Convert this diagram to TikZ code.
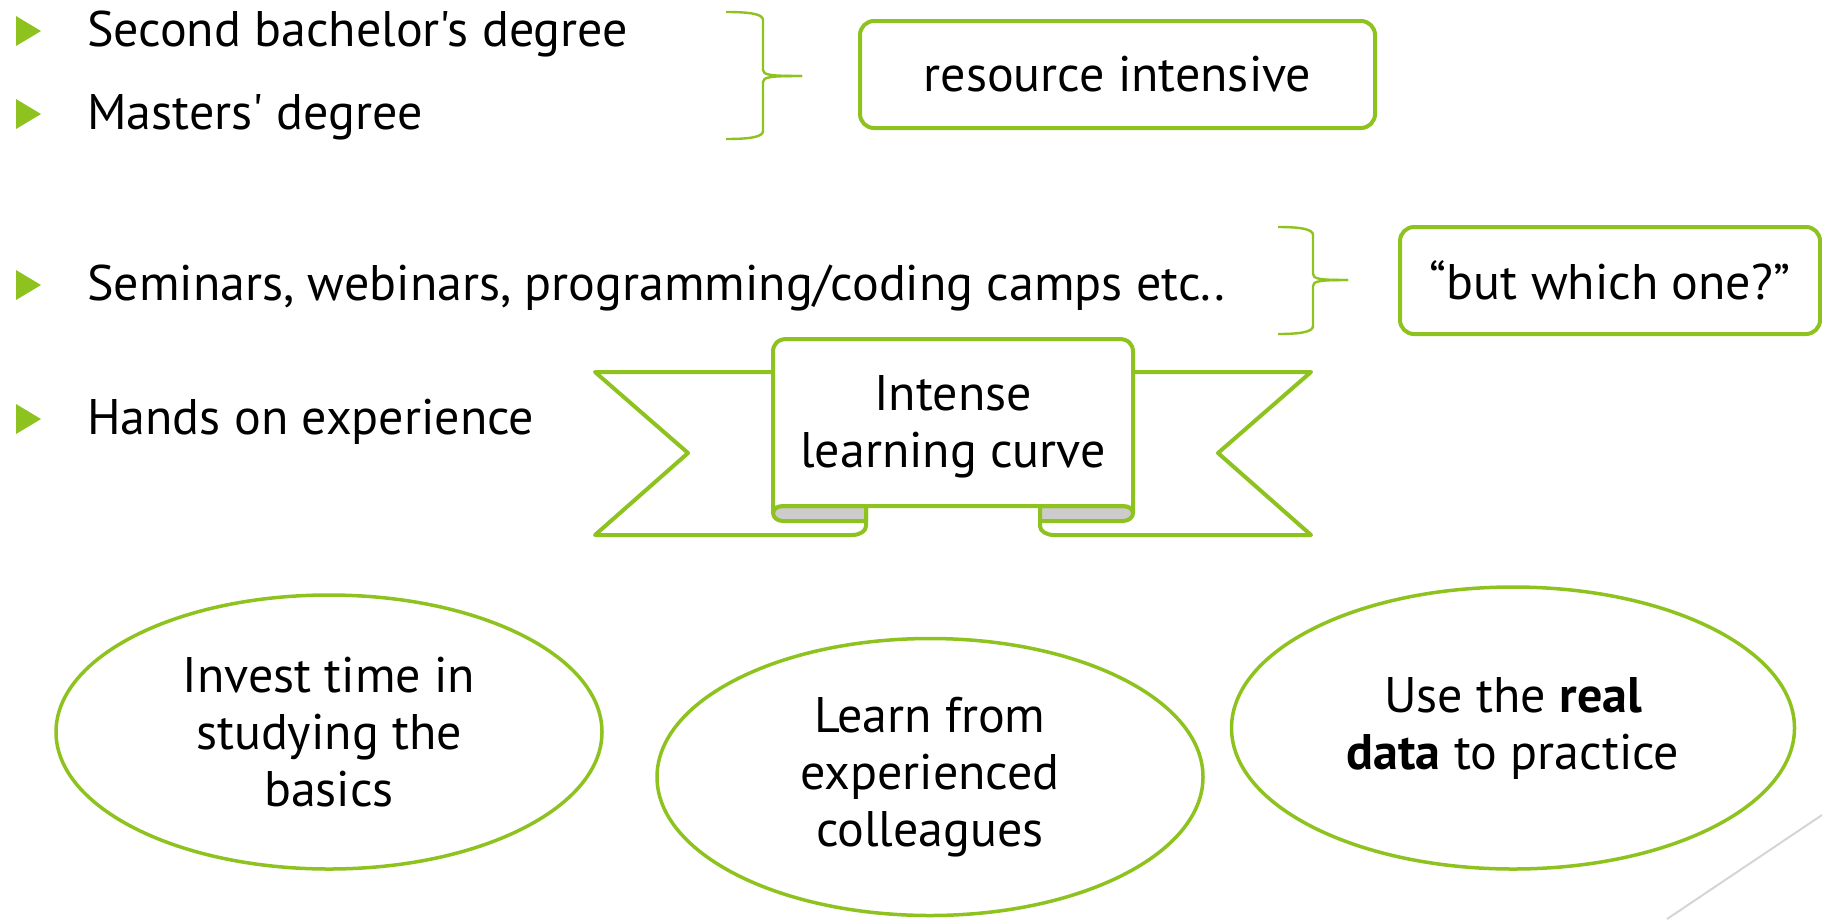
\documentclass[tikz,border=0pt]{standalone}
\usepackage{fontspec}
\setmainfont{PT Sans}[Ligatures=TeXOff]
\usetikzlibrary{shapes.geometric}
\definecolor{lgreen}{HTML}{8DC21F}
\definecolor{foldgrey}{HTML}{CCCCCC}
\definecolor{lingrey}{HTML}{D5D5D5}
\begin{document}
\begin{tikzpicture}[x=1pt,y=-1pt, line join=round,
  txt/.style={font=\fontsize{50}{57}\selectfont, inner sep=0pt},
  rbox/.style={draw=lgreen, line width=4pt, rounded corners=14pt, fill=white, txt, align=center},
  oval/.style={draw=lgreen, line width=3.5pt, ellipse, txt, align=center, fill=white},
  bracepath/.style={draw=lgreen, line width=2.4pt},
  rib/.style={draw=lgreen, line width=4pt, fill=white},
  fold/.style={draw=lgreen, line width=4pt, fill=foldgrey}
]
\useasboundingbox (0,0) rectangle (1822,919);

% bullets
\foreach \y in {31,114,285,419}
  \fill[lgreen] (16,{\y-15}) -- (41,\y) -- (16,{\y+15}) -- cycle;

\node[txt, anchor=base west] (b1) at (87,46) {Second bachelor's degree};
\node[txt, anchor=base west] (b2) at (87,129) {Masters' degree};
\node[txt, anchor=base west] (b3) at (87,300) {Seminars, webinars, programming/coding camps etc..};
\node[txt, anchor=base west] (b4) at (87,434) {Hands on experience};

% braces
\draw[bracepath] (726,12) .. controls (750,12) and (763,14) .. (763,20) -- (763,70) .. controls (763,75) and (770,76) .. (802,76);
\draw[bracepath] (726,139) .. controls (750,139) and (763,137) .. (763,131) -- (763,82) .. controls (763,77) and (770,76) .. (802,76);
\draw[bracepath] (1278,227) .. controls (1300,227) and (1313,229) .. (1313,235) -- (1313,274) .. controls (1313,279) and (1320,280) .. (1348,280);
\draw[bracepath] (1278,334) .. controls (1300,334) and (1313,332) .. (1313,326) -- (1313,286) .. controls (1313,281) and (1320,280) .. (1348,280);

% boxes
\node[rbox, minimum width=515pt, minimum height=107pt] (r1) at (1117.5,74.5) {resource intensive};
\node[rbox, minimum width=420pt, minimum height=107pt] (r2) at (1610,280.5) {“but which one?”};

% ribbon
\draw[rib] (773,372) -- (595,372) -- (688,453) -- (595,535) -- (852,535) .. controls (860,535) and (866,531) .. (866,526) -- (866,506);
\draw[rib] (1133,372) -- (1311,372) -- (1218,453) -- (1311,535) -- (1054,535) .. controls (1046,535) and (1040,531) .. (1040,526) -- (1040,506);
\draw[fold] (866,506) -- (783,506) .. controls (777,506) and (773,509) .. (773,513) .. controls (773,517) and (777,521) .. (783,521) -- (866,521) -- cycle;
\draw[fold] (1040,506) -- (1123,506) .. controls (1129,506) and (1133,509) .. (1133,513) .. controls (1133,517) and (1129,521) .. (1123,521) -- (1040,521) -- cycle;
\draw[rib] (773,513) -- (773,352) .. controls (773,344) and (778,339) .. (787,339) -- (1119,339) .. controls (1128,339) and (1133,344) .. (1133,352) -- (1133,513) .. controls (1133,509) and (1129,506) .. (1123,506) -- (783,506) .. controls (777,506) and (773,509) .. (773,513) -- cycle;
\node[txt, align=center] (ribtext) at (953,427) {Intense\\learning curve};

% corner line
\draw[lingrey, line width=2pt] (1667,919) -- (1822,815);

% ellipses
\node[oval, minimum width=546pt, minimum height=274pt] (e1) at (329,732) {Invest time in\\studying the\\basics};
\node[oval, minimum width=546pt, minimum height=277pt] (e2) at (930,777) {Learn from\\experienced\\colleagues};
\node[oval, minimum width=563pt, minimum height=282pt] (e3) at (1513,728) {Use the \textbf{real}\\\textbf{data} to practice};
\end{tikzpicture}
\end{document}
